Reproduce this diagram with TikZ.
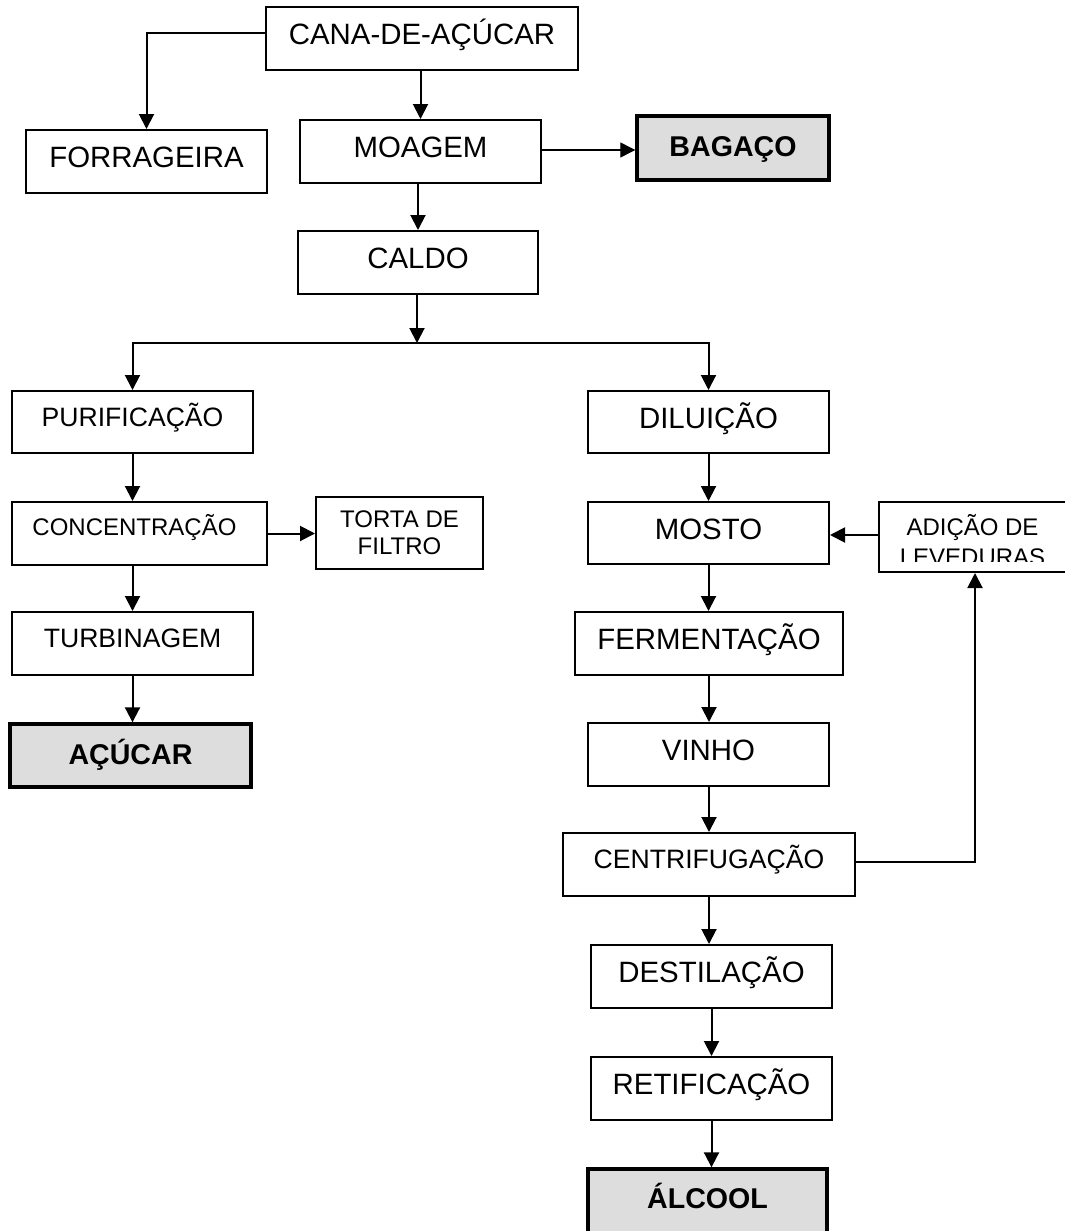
\documentclass[tikz,border=0pt]{standalone}
\usepackage{fontspec}
\setmainfont{Liberation Sans}
\usetikzlibrary{arrows.meta}

\definecolor{prodgray}{HTML}{DDDDDD}

\begin{document}
\begin{tikzpicture}[x=0.5pt,y=-0.5pt,
  box/.style 2 args={draw, line width=1pt, inner sep=0pt,
    minimum width=#1*0.5pt, minimum height=#2*0.5pt},
  big/.style={font=\fontsize{14.7pt}{17.5pt}\selectfont, text height=10.7pt, text depth=4.3pt},
  mid/.style={font=\fontsize{13.3pt}{16pt}\selectfont, text height=9.6pt, text depth=5.2pt},
  small/.style={font=\fontsize{12pt}{14.4pt}\selectfont, text height=9pt, text depth=6.9pt},
  product/.style={fill=prodgray, line width=1.7pt,
    font=\bfseries\fontsize{14.3pt}{17pt}\selectfont, text height=10.5pt, text depth=1.76pt},
  flow/.style={line width=1pt, -{Triangle[length=7.5pt,width=7.5pt]}},
  thinflow/.style={line width=0.65pt, -{Triangle[length=7.5pt,width=7.5pt]}}
]
\useasboundingbox (0,0) rectangle (1065,1231);

% --- main trunk ---
\node[box={312}{63}, big] (cana) at (422,38.5) {CANA-DE-AÇÚCAR};
\node[box={241}{63}, big] (forr) at (146.5,161.5) {FORRAGEIRA};
\node[box={241}{63}, big] (moagem) at (420.5,151.5) {MOAGEM};
\node[box={192}{64}, product] (bagaco) at (733,148) {BAGAÇO};
\node[box={240}{63}, big] (caldo) at (418,262.5) {CALDO};

% --- sugar branch ---
\node[box={241}{62}, mid] (purif) at (132.5,422) {PURIFICAÇÃO};
\node[box={255}{63}, small] (conc) at (139.5,533.5) {CONCENTRAÇÃO\hspace*{5pt}};
\node[box={167}{72}, align=center, font=\fontsize{12pt}{13.5pt}\selectfont] (torta) at (399.5,533) {TORTA DE\\FILTRO};
\node[box={241}{63}, mid] (turb) at (132.5,643.5) {TURBINAGEM};
\node[box={241}{63}, product] (acucar) at (130.5,755.5) {AÇÚCAR};

% --- alcohol branch ---
\node[box={241}{62}, big] (dilu) at (708.5,422) {DILUIÇÃO};
\node[box={241}{62}, big] (mosto) at (708.5,533) {MOSTO};
\node[box={192}{70}] (adic) at (975,537) {};
\node[box={268}{63}, big] (ferm) at (709,643.5) {FERMENTAÇÃO};
\node[box={241}{63}, big] (vinho) at (708.5,754.5) {VINHO};
\node[box={292}{63}, mid] (centr) at (709,864.5) {CENTRIFUGAÇÃO};
\node[box={241}{63}, big] (dest) at (711.5,976.5) {DESTILAÇÃO};
\node[box={241}{63}, big] (retif) at (711.5,1088.5) {RETIFICAÇÃO};
\node[box={239}{66}, product, text depth=4.26pt] (alcool) at (707.5,1202) {ÁLCOOL};

% text of the yeast box, cut off by the box interior
\begin{scope}
  \clip (adic.north west) rectangle ([yshift=6pt]adic.south east);
  \node[anchor=base, inner sep=0pt, font=\fontsize{12pt}{14pt}\selectfont] (adicA) at (972.5,535) {ADIÇÃO DE};
  \node[anchor=base, inner sep=0pt, font=\fontsize{12pt}{14pt}\selectfont] (adicB) at (972.5,565) {LEVEDURAS};
\end{scope}

% --- connectors ---
\coordinate (split) at (417,343);
\draw[flow] ([yshift=2.75pt]cana.west) -| (forr.north);
\draw[flow] (moagem.north |- cana.south) -- (moagem.north);
\draw[thinflow] ([yshift=0.75pt]moagem.east) -- ([yshift=0.75pt]moagem.east -| bagaco.west);
\draw[flow] (caldo.north |- moagem.south) -- (caldo.north);
\draw[flow] (caldo.south -| split) -- (split);
\draw[flow] (split) -| (purif.north);
\draw[flow] (split) -| (dilu.north);

\draw[flow] (purif.south) -- (purif.south |- conc.north);
\draw[flow] (turb.north |- conc.south) -- (turb.north);
\draw[flow] (turb.south) -- (turb.south |- acucar.north);
\draw[flow] (conc.east) -- (conc.east -| torta.west);

\draw[flow] (dilu.south) -- (dilu.south |- mosto.north);
\draw[flow] ([yshift=1pt]adic.west) -- ([yshift=1pt]adic.west -| mosto.east);
\draw[flow] (mosto.south) -- (mosto.south |- ferm.north);
\draw[flow] (ferm.south) -- (ferm.south |- vinho.north);
\draw[flow] (centr.north |- vinho.south) -- (centr.north);
\draw[flow] ([yshift=1.25pt]centr.east) -| (adic.south);
\draw[flow] (centr.south) -- (centr.south |- dest.north);
\draw[flow] (retif.north |- dest.south) -- (retif.north);
\draw[flow] (retif.south) -- (retif.south |- alcool.north);
\end{tikzpicture}
\end{document}
